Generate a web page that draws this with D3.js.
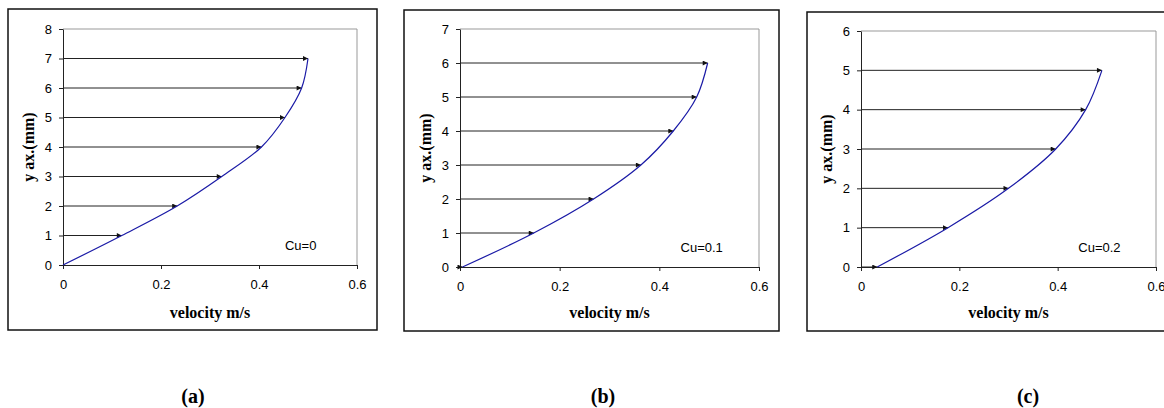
<!DOCTYPE html>
<html>
<head>
<meta charset="utf-8">
<script src="https://cdn.jsdelivr.net/npm/d3@7"></script>
<style>
  body { margin: 0; background: #fff; }
  .tick text { font-family: "Liberation Sans", Arial, sans-serif; font-size: 13px; fill: #000; }
  .axis path, .axis line { stroke: #222; }
</style>
</head>
<body>
<div id="chart"></div>
<script>
// y positions (mm) and velocity (m/s) of each profile
var heightsA = [0, 1, 2, 3, 4, 5, 6, 7];
var velocityA = [0, 0.12, 0.233, 0.324, 0.405, 0.453, 0.487, 0.50];

var heightsB = [0, 1, 2, 3, 4, 5, 6];
var velocityB = [0.005, 0.148, 0.268, 0.363, 0.428, 0.475, 0.497];

var heightsC = [0, 1, 2, 3, 4, 5];
var velocityC = [0.033, 0.177, 0.30, 0.396, 0.457, 0.49];

var xTicks = [0, 0.2, 0.4, 0.6];
var xTickLabels = ["0", "0.2", "0.4", "0.6"];
var yMaxes = [8, 7, 6];
var cuLabels = ["Cu=0", "Cu=0.1", "Cu=0.2"];
var panelLabels = ["(a)", "(b)", "(c)"];

var W = 1164, H = 408;

var svg = d3.select("#chart").append("svg")
    .attr("width", W)
    .attr("height", H);

svg.append("defs").append("marker")
    .attr("id", "arrow")
    .attr("viewBox", "0 0 10 10")
    .attr("refX", 10)
    .attr("refY", 5)
    .attr("markerWidth", 6)
    .attr("markerHeight", 5)
    .attr("markerUnits", "userSpaceOnUse")
    .attr("orient", "auto")
  .append("path")
    .attr("d", "M0,0L10,5L0,10Z")
    .attr("fill", "#111");

// frame box and plot area for each panel
var panels = [
  {box: [8, 9, 377, 330], plot: [63, 29, 357, 265], heights: heightsA, vel: velocityA, labelX: 193},
  {box: [404, 10, 779, 331], plot: [460, 29, 759, 267], heights: heightsB, vel: velocityB, labelX: 603},
  {box: [807, 12, 1172, 331], plot: [861, 31, 1156, 267], heights: heightsC, vel: velocityC, labelX: 1028}
];

function drawPanel(p, i) {
  var b = p.box, pl = p.plot;

  svg.append("rect")
    .attr("x", b[0]).attr("y", b[1])
    .attr("width", b[2] - b[0]).attr("height", b[3] - b[1])
    .attr("fill", "#fff")
    .attr("stroke", "#111")
    .attr("stroke-width", 1.5);

  var x = d3.scaleLinear().domain([0, 0.6]).range([pl[0], pl[2]]);
  var y = d3.scaleLinear().domain([0, yMaxes[i]]).range([pl[3], pl[1]]);

  // plot area border (grey top and right)
  svg.append("path")
    .attr("d", "M" + x(0) + "," + y(yMaxes[i]) + "H" + x(0.6) + "V" + y(0))
    .attr("fill", "none")
    .attr("stroke", "#999")
    .attr("stroke-width", 1);

  var g = svg.append("g");

  g.append("g")
    .attr("class", "axis")
    .attr("transform", "translate(0," + y(0) + ")")
    .call(d3.axisBottom(x).tickValues(xTicks)
      .tickFormat(function(d, k) { return xTickLabels[k]; })
      .tickSize(4).tickSizeOuter(0).tickPadding(11));

  g.append("g")
    .attr("class", "axis")
    .attr("transform", "translate(" + x(0) + ",0)")
    .call(d3.axisLeft(y).ticks(yMaxes[i]).tickFormat(d3.format("d"))
      .tickSize(4).tickSizeOuter(0).tickPadding(7));

  // arrows from the axis to the profile
  g.selectAll(".arrow")
    .data(p.heights.map(function(h, k) { return {h: h, v: p.vel[k]}; })
      .filter(function(d) { return d.v > 0; }))
    .enter().append("line")
    .attr("class", "arrow")
    .attr("x1", x(0))
    .attr("x2", function(d) { return x(d.v); })
    .attr("y1", function(d) { return y(d.h); })
    .attr("y2", function(d) { return y(d.h); })
    .attr("stroke", "#222")
    .attr("stroke-width", 1)
    .attr("marker-end", "url(#arrow)");

  var line = d3.line()
    .x(function(d) { return x(d.v); })
    .y(function(d) { return y(d.h); })
    .curve(d3.curveCatmullRom.alpha(0.5));

  g.append("path")
    .datum(p.heights.map(function(h, k) { return {h: h, v: p.vel[k]}; }))
    .attr("d", line)
    .attr("fill", "none")
    .attr("stroke", "#1a1aa6")
    .attr("stroke-width", 1.2);

  g.append("text")
    .attr("x", x(0.485))
    .attr("y", pl[3] - 20)
    .attr("dy", "0.35em")
    .attr("text-anchor", "middle")
    .style("font", "13px 'Liberation Sans', Arial, sans-serif")
    .text(cuLabels[i]);

  g.append("text")
    .attr("x", (pl[0] + pl[2]) / 2)
    .attr("y", 312)
    .attr("dy", "0.35em")
    .attr("text-anchor", "middle")
    .style("font", "bold 16px 'Liberation Serif', 'Times New Roman', serif")
    .text("velocity m/s");

  g.append("text")
    .attr("transform", "translate(" + (pl[0] - 35) + "," + ((pl[1] + pl[3]) / 2) + ") rotate(-90)")
    .attr("dy", "0.35em")
    .attr("text-anchor", "middle")
    .style("font", "bold 16px 'Liberation Serif', 'Times New Roman', serif")
    .text("y ax.(mm)");

  svg.append("text")
    .attr("x", p.labelX)
    .attr("y", 396)
    .attr("dy", "0.35em")
    .attr("text-anchor", "middle")
    .style("font", "bold 20px 'Liberation Serif', 'Times New Roman', serif")
    .text(panelLabels[i]);
}

panels.forEach(drawPanel);
</script>
</body>
</html>
